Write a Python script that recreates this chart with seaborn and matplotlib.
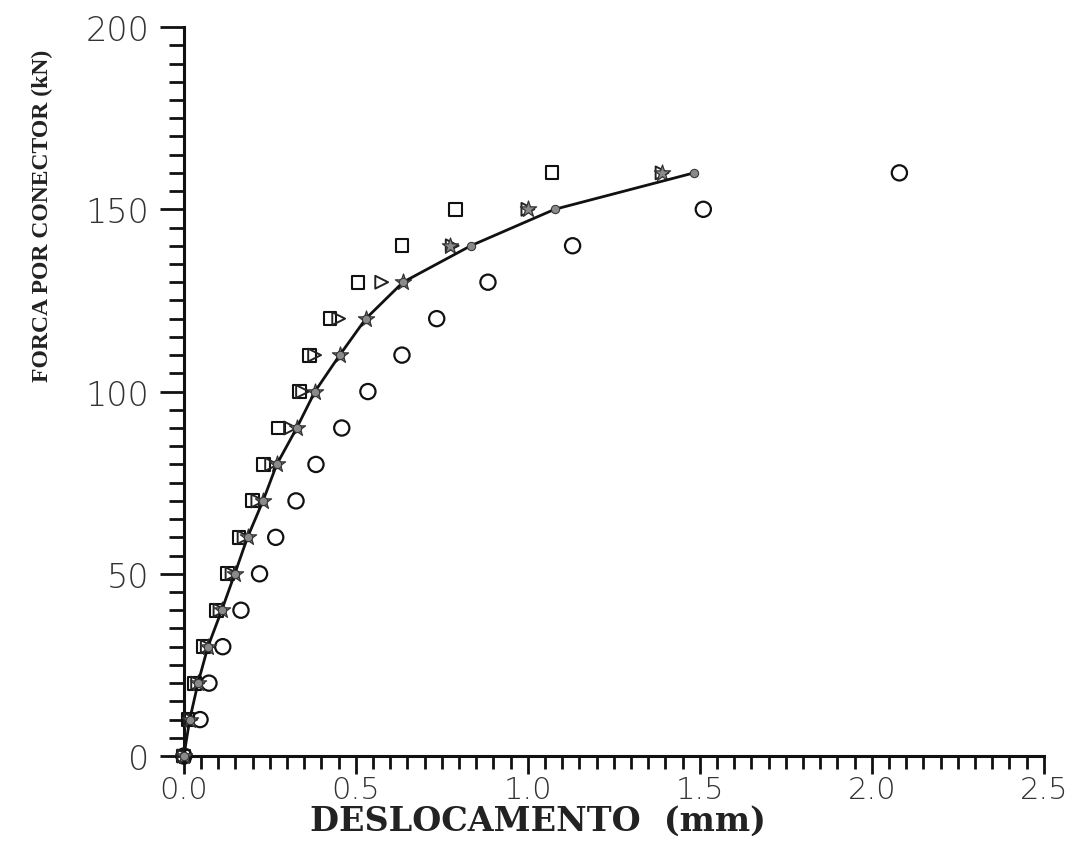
import matplotlib
matplotlib.use("Agg")
import matplotlib.pyplot as plt
import pandas as pd
import seaborn as sns

# Load levels (kN) applied per connector
forca = [0, 10, 20, 30, 40, 50, 60, 70, 80, 90, 100, 110, 120, 130, 140, 150, 160]

# Slip (mm) for each series at every load level
desl_curva = [0.0, 0.017, 0.041, 0.070, 0.110, 0.148, 0.185, 0.230, 0.270,
              0.328, 0.381, 0.453, 0.529, 0.637, 0.834, 1.078, 1.483]
desl_estrela = [0.0, 0.017, 0.041, 0.070, 0.110, 0.148, 0.185, 0.230, 0.270,
                0.328, 0.381, 0.453, 0.529, 0.637, 0.773, 1.000, 1.390]
desl_triangulo = [0.0, 0.020, 0.040, 0.068, 0.105, 0.140, 0.175, 0.215, 0.255,
                  0.310, 0.345, 0.380, 0.450, 0.575, 0.780, 1.000, 1.390]
desl_quadrado = [0.0, 0.012, 0.030, 0.058, 0.095, 0.128, 0.160, 0.200, 0.232,
                 0.276, 0.335, 0.366, 0.425, 0.506, 0.634, 0.790, 1.070]
desl_circulo = [0.0, 0.047, 0.073, 0.113, 0.166, 0.220, 0.267, 0.326, 0.384,
                0.459, 0.535, 0.634, 0.735, 0.884, 1.130, 1.510, 2.080]

x_ticks = [0.0, 0.5, 1.0, 1.5, 2.0, 2.5]
x_tick_labels = ["0.0", "0.5", "1.0", "1.5", "2.0", "2.5"]
y_ticks = [0, 50, 100, 150, 200]
y_tick_labels = ["0", "50", "100", "150", "200"]

df = pd.DataFrame({
    "forca": forca,
    "curva": desl_curva,
    "estrela": desl_estrela,
    "triangulo": desl_triangulo,
    "quadrado": desl_quadrado,
    "circulo": desl_circulo,
})

sns.set_theme(style="ticks")
plt.rcParams["font.family"] = ["DejaVu Sans"]

fig = plt.figure(figsize=(10.69, 8.53), dpi=100)
ax = fig.add_axes([0.172, 0.1125, 0.8045, 0.8546])

common = dict(ax=ax, legend=False, clip_on=False)

sns.scatterplot(data=df, x="circulo", y="forca", marker="o", s=120,
                facecolor="none", edgecolor="#111111", linewidth=1.6, zorder=3, **common)
sns.scatterplot(data=df, x="quadrado", y="forca", marker="s", s=85,
                facecolor="none", edgecolor="#111111", linewidth=1.5, zorder=3, **common)
sns.scatterplot(data=df, x="triangulo", y="forca", marker=">", s=85,
                facecolor="none", edgecolor="#222222", linewidth=1.4, zorder=3, **common)
sns.scatterplot(data=df, x="estrela", y="forca", marker="*", s=150,
                facecolor="#8a8a8a", edgecolor="#333333", linewidth=0.9, zorder=4, **common)
sns.lineplot(data=df, x="curva", y="forca", sort=False, estimator=None,
             color="#111111", linewidth=2.0, marker="o", markersize=6,
             markerfacecolor="#8a8a8a", markeredgecolor="#333333",
             zorder=5, **common)

ax.set_xlim(0, 2.5)
ax.set_ylim(0, 200)
ax.set_xticks(x_ticks)
ax.set_xticklabels(x_tick_labels)
ax.set_yticks(y_ticks)
ax.set_yticklabels(y_tick_labels)
ax.set_xticks([i * 0.05 for i in range(51)], minor=True)
ax.set_yticks(list(range(0, 201, 5)), minor=True)

ax.tick_params(axis="x", which="major", direction="out", length=13, width=2,
               color="#111111", pad=1, labelsize=22, labelcolor="#333333")
ax.tick_params(axis="x", which="minor", direction="out", length=9, width=2, color="#111111")
ax.tick_params(axis="y", which="major", direction="out", length=17, width=2,
               color="#111111", pad=8, labelsize=24, labelcolor="#333333")
ax.tick_params(axis="y", which="minor", direction="out", length=11, width=2, color="#111111")
for lab in ax.get_xticklabels() + ax.get_yticklabels():
    lab.set_fontweight("light")

for side in ("top", "right"):
    ax.spines[side].set_visible(False)
for side in ("left", "bottom"):
    ax.spines[side].set_linewidth(2.2)
    ax.spines[side].set_color("#111111")

ax.set_xlabel("DESLOCAMENTO  (mm)", family=["DejaVu Serif"], fontweight="bold",
              fontsize=24, color="#222222")
ax.set_ylabel("FORCA POR CONECTOR (kN)", family=["Liberation Serif", "DejaVu Serif"],
              fontweight="bold", fontsize=17, color="#222222")
ax.xaxis.set_label_coords(0.412, -0.066)
ax.yaxis.set_label_coords(-0.152, 0.743)

fig.savefig("out.png", dpi=100, facecolor="white")
